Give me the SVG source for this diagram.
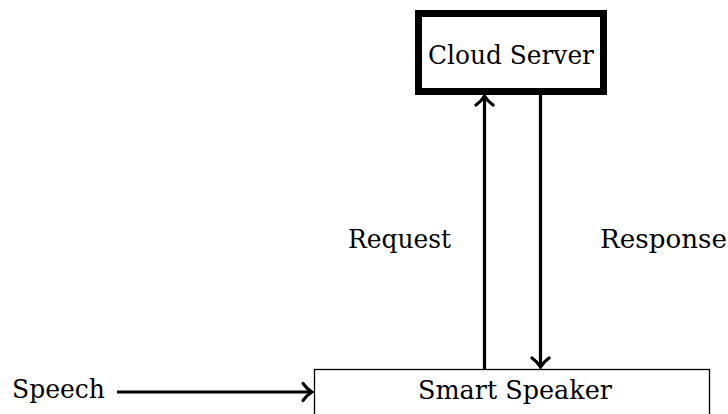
<svg xmlns="http://www.w3.org/2000/svg" width="728" height="414" viewBox="0 0 728 414">
<style>
text{font-family:"DejaVu Serif","Liberation Serif",serif;font-size:26px;fill:#000}
.c{stroke:#000;stroke-width:3.2;fill:none}
</style>
<defs>
<marker id="ah" markerWidth="20" markerHeight="22" refX="14" refY="11" orient="auto" markerUnits="userSpaceOnUse">
<path d="M5,2.5 Q9,8 14,11 Q9,14 5,19.5" fill="none" stroke="#000" stroke-width="3.2" stroke-linecap="round"/>
</marker>
</defs>
<rect width="728" height="414" fill="#fff"/>
<g id="cloud">
<rect x="418.5" y="13.5" width="185" height="78" fill="#fff" stroke="#000" stroke-width="7"/>
<text x="511" y="64" text-anchor="middle" textLength="166" lengthAdjust="spacingAndGlyphs">Cloud Server</text>
</g>
<g id="speaker">
<rect x="314.5" y="369.5" width="395" height="60" fill="#fff" stroke="#000" stroke-width="1.3"/>
<text x="515" y="399" text-anchor="middle" textLength="194" lengthAdjust="spacingAndGlyphs">Smart Speaker</text>
</g>
<g id="speech">
<text x="12" y="398" textLength="93" lengthAdjust="spacingAndGlyphs">Speech</text>
</g>
<g id="connectors">
<line class="c" x1="117" y1="392" x2="312" y2="392" marker-end="url(#ah)"/>
<line class="c" x1="484.5" y1="369" x2="484.5" y2="96" marker-end="url(#ah)"/>
<line class="c" x1="540.5" y1="95" x2="540.5" y2="367" marker-end="url(#ah)"/>
<text x="348" y="248" textLength="103" lengthAdjust="spacingAndGlyphs">Request</text>
<text x="600" y="248" textLength="127" lengthAdjust="spacingAndGlyphs">Response</text>
</g>
</svg>
